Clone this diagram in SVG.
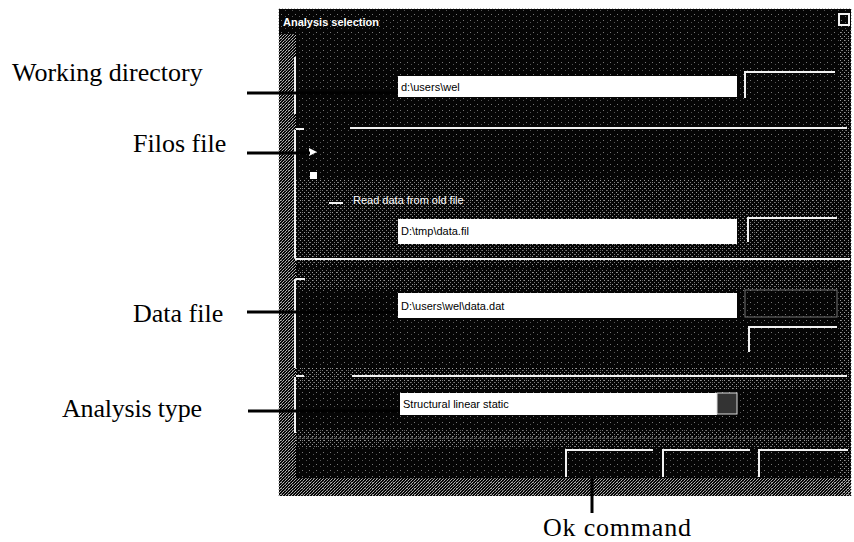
<svg xmlns="http://www.w3.org/2000/svg" width="854" height="542" viewBox="0 0 854 542">
<style>
.lbl{font-family:"Liberation Serif","Times New Roman",serif;font-size:26px;fill:#000}
.ui{font-family:"Liberation Sans",Arial,sans-serif;font-size:11px;fill:#fff}
.fld{font-family:"Liberation Sans",Arial,sans-serif;font-size:11px;fill:#000}
.edge{stroke:#f2f2f2;stroke-width:2;fill:none}
.leader{stroke:#000;stroke-width:3;fill:none}
.field{fill:#fff}
</style>
<defs>
<pattern id="sparse" width="7" height="6" patternUnits="userSpaceOnUse">
<rect x="1" y="2" width="1" height="1" fill="#777"/>
<rect x="5" y="4" width="1" height="1" fill="#555"/>
</pattern>
<pattern id="dense" width="3" height="3" patternUnits="userSpaceOnUse">
<rect x="0" y="0" width="1" height="1" fill="#aaa"/>
<rect x="2" y="1" width="1" height="1" fill="#888"/>
<rect x="1" y="2" width="1" height="1" fill="#bbb"/>
</pattern>
<pattern id="mid" width="4" height="4" patternUnits="userSpaceOnUse">
<rect x="0" y="0" width="1" height="1" fill="#999"/>
<rect x="2" y="2" width="1" height="1" fill="#777"/>
</pattern>
</defs>
<rect width="854" height="542" fill="#fff"/>

<g id="dialog">
<rect x="279" y="9" width="572" height="487" fill="#050505"/>
<rect x="279" y="9" width="572" height="487" fill="url(#sparse)"/>
<rect x="279" y="34" width="17" height="462" fill="url(#dense)"/>
<rect x="296" y="180" width="555" height="85" fill="url(#mid)"/>
<rect x="296" y="270" width="555" height="20" fill="url(#mid)"/>
<rect x="296" y="368" width="555" height="22" fill="url(#mid)"/>
<rect x="296" y="430" width="555" height="18" fill="url(#mid)"/>
<rect x="279" y="478" width="572" height="18" fill="url(#dense)"/>
<rect x="840" y="30" width="11" height="466" fill="url(#mid)"/>
<line x1="278.5" y1="9" x2="278.5" y2="496" stroke="#bbb" stroke-width="1" stroke-dasharray="1 2"/>
<line x1="279" y1="8.5" x2="851" y2="8.5" stroke="#bbb" stroke-width="1" stroke-dasharray="1 2"/>
<line x1="851.5" y1="9" x2="851.5" y2="496" stroke="#bbb" stroke-width="1" stroke-dasharray="1 2"/>
<text class="ui" x="283" y="26" font-weight="bold">Analysis selection</text>
<rect x="839" y="14" width="10" height="11" class="edge" stroke-width="1.5"/>
</g>

<g id="group-working-directory">
<line x1="295" y1="57" x2="295" y2="114" class="edge"/>
<rect x="398" y="76" width="339" height="21" class="field"/>
<text class="fld" x="401" y="91">d:\users\wel</text>
<polyline points="745,98 745,72 835,72" class="edge"/>
</g>

<g id="group-filos-file">
<line x1="296" y1="129" x2="304" y2="129" class="edge"/>
<line x1="350" y1="128" x2="847" y2="128" class="edge"/>
<line x1="295" y1="130" x2="295" y2="258" class="edge"/>
<path d="M309,148 l8,4 l-8,4 z" fill="#fff"/>
<rect x="310" y="172" width="7" height="7" fill="#fff"/>
<line x1="329" y1="203" x2="343" y2="203" class="edge"/>
<text class="ui" x="353" y="204">Read data from old file</text>
<rect x="398" y="219" width="339" height="25" class="field"/>
<text class="fld" x="401" y="235">D:\tmp\data.fil</text>
<polyline points="748,242 748,218 837,218" class="edge"/>
<line x1="295" y1="259" x2="850" y2="259" class="edge"/>
</g>

<g id="group-data-file">
<line x1="296" y1="279" x2="305" y2="279" class="edge"/>
<line x1="295" y1="279" x2="295" y2="368" class="edge"/>
<rect x="398" y="293" width="339" height="25" class="field"/>
<text class="fld" x="401" y="310">D:\users\wel\data.dat</text>
<rect x="745" y="290" width="92" height="27" fill="none" stroke="#777" stroke-width="1"/>
<polyline points="749,352 749,327 837,327" class="edge"/>
</g>

<g id="group-analysis-type">
<line x1="296" y1="376" x2="304" y2="376" class="edge"/>
<line x1="352" y1="376" x2="847" y2="376" class="edge"/>
<line x1="295" y1="377" x2="295" y2="433" class="edge"/>
<rect x="400" y="393" width="317" height="22" class="field"/>
<text class="fld" x="403" y="408">Structural linear static</text>
<rect x="717" y="393" width="20" height="21" fill="#333" stroke="#ddd" stroke-width="1"/>
<line x1="295" y1="438" x2="847" y2="438" stroke="#888" stroke-width="1" stroke-dasharray="2 2"/>
</g>

<g id="buttons">
<polyline points="566,477 566,450 653,450" class="edge"/>
<polyline points="663,477 663,450 750,450" class="edge"/>
<polyline points="759,477 759,450 848,450" class="edge"/>
</g>

<g id="connectors">
<line x1="247" y1="93" x2="398" y2="93" class="leader"/>
<line x1="247" y1="153" x2="310" y2="153" class="leader"/>
<line x1="247" y1="312" x2="398" y2="312" class="leader"/>
<line x1="248" y1="411" x2="400" y2="411" class="leader"/>
<line x1="592" y1="478" x2="592" y2="513" class="leader"/>
</g>

<g id="labels">
<text class="lbl" x="12" y="81">Working directory</text>
<text class="lbl" x="133" y="152">Filos file</text>
<text class="lbl" x="133" y="322">Data file</text>
<text class="lbl" x="62" y="417" textLength="140">Analysis type</text>
<text class="lbl" x="543" y="536" textLength="148">Ok command</text>
</g>
</svg>
